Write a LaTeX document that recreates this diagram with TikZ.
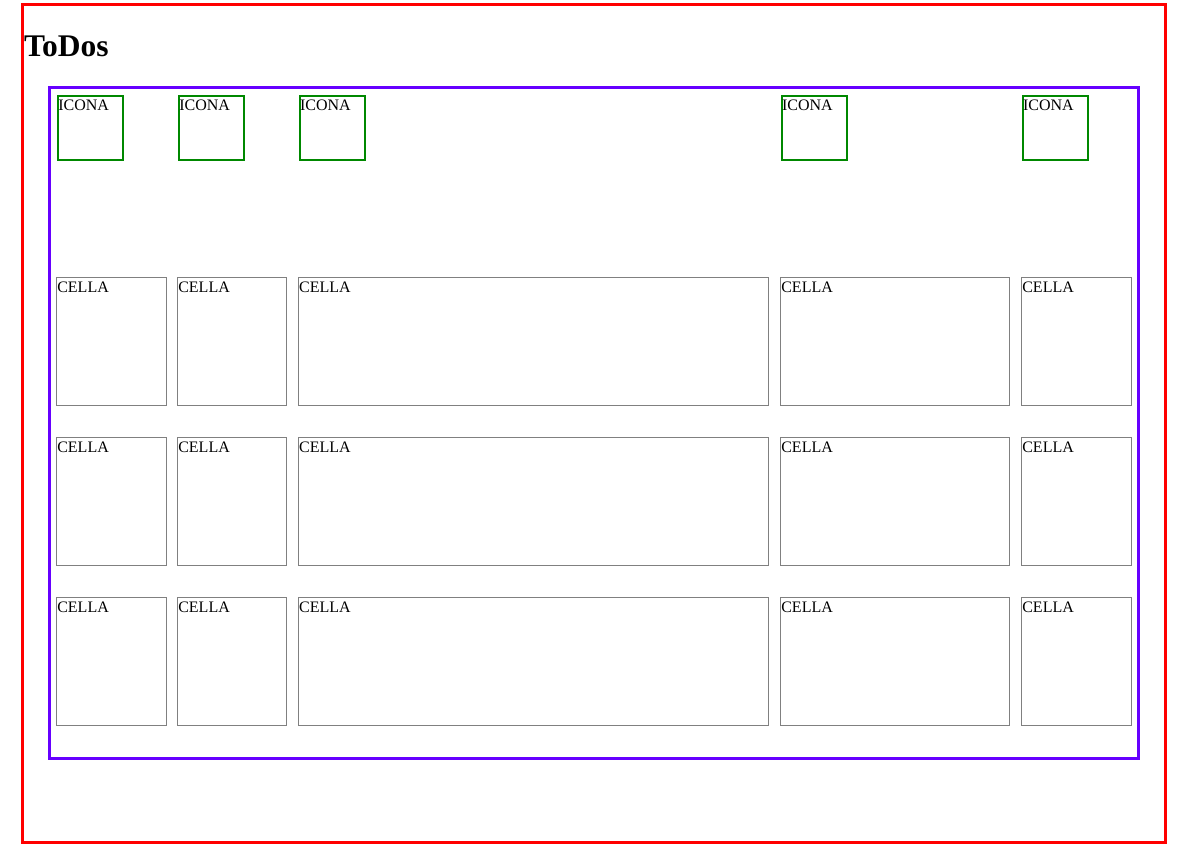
\documentclass[tikz,border=0pt]{standalone}
\usepackage{fontspec}
\setmainfont{Liberation Serif}
\definecolor{framered}{RGB}{255,0,0}
\definecolor{frameblue}{RGB}{102,0,255}
\definecolor{icongreen}{RGB}{0,136,0}
\definecolor{cellgray}{RGB}{128,128,128}
\begin{document}
\begin{tikzpicture}[x=1pt,y=-1pt,
  boxbase/.style={rectangle,inner sep=0pt,outer sep=0pt,anchor=north west},
  outerframe/.style={boxbase,draw=framered,line width=3pt},
  innerframe/.style={boxbase,draw=frameblue,line width=3pt},
  iconbox/.style={boxbase,draw=icongreen,line width=2pt},
  cellbox/.style={boxbase,draw=cellgray,line width=1pt},
  lbl/.style={inner sep=0pt,outer sep=0pt,anchor=base west,font=\fontsize{16}{19}\selectfont},
  titletext/.style={inner sep=0pt,outer sep=0pt,anchor=base west,font=\fontsize{31.5}{38}\selectfont\bfseries}]
\useasboundingbox (0,0) rectangle (1189,855);
\node[outerframe,minimum width=1143.7pt,minimum height=837.7pt] (page) at (22,4.8) {};
\node[titletext] (title) at (24,56.7) {ToDos};
\node[innerframe,minimum width=1088.6pt,minimum height=670.3pt] (table) at (49.7,87.7) {};
\foreach \i/\L in {1/56.7,2/177.7,3/298.5,4/780.5,5/1021.5}{
  \node[iconbox,minimum width=65.3pt,minimum height=64.6pt] (icon\i) at (\L+1,95.7) {};
  \node[lbl] (iconlbl\i) at (\L+1.6,110) {ICONA};
}
\foreach \i/\L/\W in {1/56.3/110.4,2/177.3/110,3/298.2/471,4/780.3/230,5/1021.3/110.4}{
  \foreach \r/\T in {1/277.3,2/437.3,3/597.3}{
    \node[cellbox,minimum width={\W-1},minimum height=127.7pt] (cell\r\i) at (\L+0.5,\T+0.5) {};
    \node[lbl] (celllbl\r\i) at (\L+1,\T+15) {CELLA};
  }
}
\end{tikzpicture}
\end{document}
